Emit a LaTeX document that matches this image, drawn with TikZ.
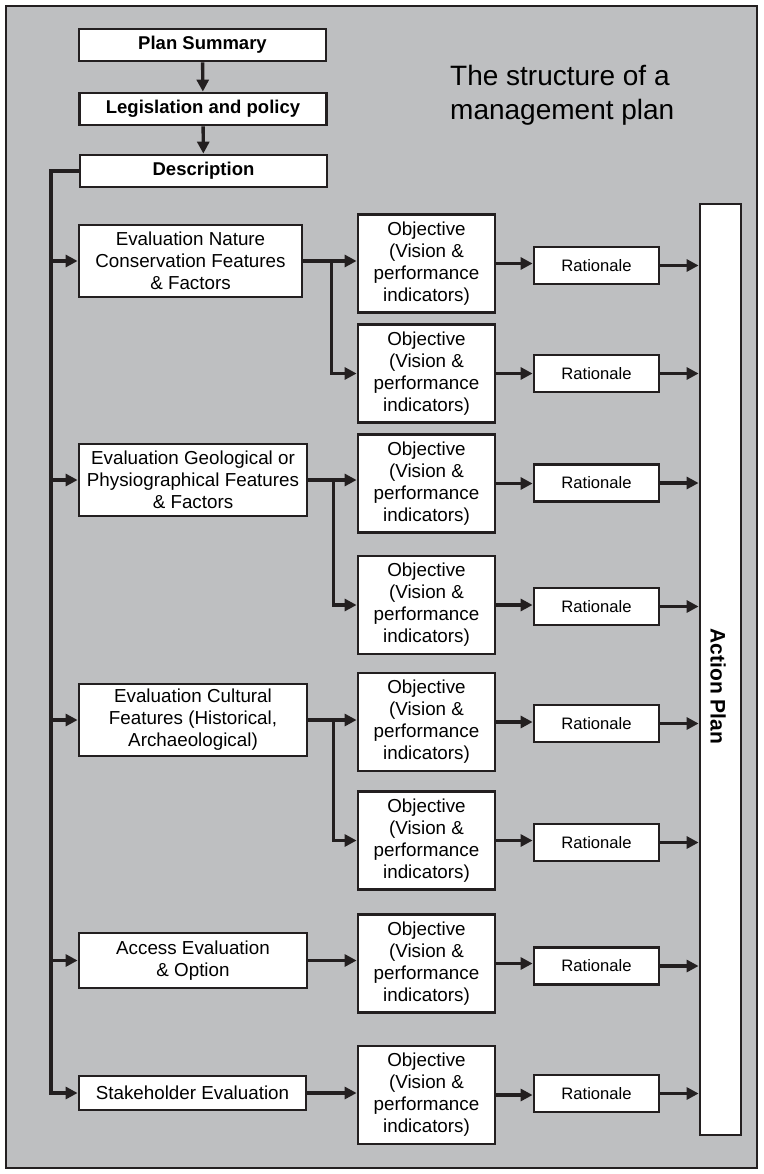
\documentclass[tikz,border=0pt]{standalone}
\usepackage{fontspec}
\setmainfont{Liberation Sans}
\usetikzlibrary{arrows.meta}
\definecolor{panelgray}{RGB}{190,191,193}
\definecolor{inkblack}{RGB}{35,31,32}
\tikzset{
    box/.style={draw=inkblack, line width=2.8pt, fill=white, inner sep=0pt, align=center,
        font=\fontsize{18.8}{22}\selectfont},
    headbox/.style={box, font=\fontsize{18.5}{22}\selectfont\bfseries, minimum width=247pt, minimum height=32pt},
    evalbox/.style={box, minimum height=72pt},
    objbox/.style={box, minimum width=137pt, minimum height=98pt},
    ratbox/.style={box, minimum width=125pt, minimum height=37pt, font=\fontsize{16.6}{20}\selectfont},
    link/.style={draw=inkblack, line width=3.4pt, -{Triangle[length=12pt,width=12pt]}},
}

\begin{document}
\begin{tikzpicture}[x=1pt, y=-1pt]
    % page and grey panel
    \useasboundingbox (0,0) rectangle (763,1174);
    \draw[inkblack, line width=2.8pt, fill=panelgray] (6,6) rectangle (757,1168);

    % header column
    \node[headbox] (summary) at (202.5,45) {Plan Summary};
    \node[headbox] (legis) at (203,109) {Legislation and policy};
    \node[headbox] (descr) at (203.5,171) {Description};

    \node[anchor=north west, inner sep=0pt, align=left, font=\fontsize{28}{34}\selectfont]
        (title) at (450,65) {The structure of a\\management plan};

    % evaluation column
    \node[evalbox, minimum width=223pt] (evalnat) at (190.5,261) {Evaluation Nature\\Conservation Features\\\& Factors};
    \node[evalbox, minimum width=228pt] (evalgeo) at (193,480) {Evaluation Geological or\\Physiographical Features\\\& Factors};
    \node[evalbox, minimum width=228pt] (evalcul) at (193,720) {Evaluation Cultural\\Features (Historical,\\Archaeological)};
    \node[box, minimum width=228pt, minimum height=55pt] (access) at (193,960.5) {Access Evaluation\\\& Option};
    \node[box, minimum width=227pt, minimum height=34pt] (stake) at (192.5,1093) {Stakeholder Evaluation};

    % objectives and rationales
    \foreach \i/\oy/\ry in {1/263.5/265.5, 2/373.5/373.5, 3/483.5/483, 4/605/606.5,
                            5/722/723.5, 6/840.5/842.5, 7/963.5/966, 8/1095/1093.5}
    {
        \node[objbox] (obj\i) at (426.5,\oy) {Objective\\(Vision \&\\performance\\indicators)};
        \node[ratbox] (rat\i) at (596.5,\ry) {Rationale};
    }

    % action plan
    \node[box, minimum width=41pt, minimum height=931pt] (action) at (720.5,669.5) {};
    \node[rotate=-90, inner sep=0pt, font=\fontsize{21}{24}\selectfont\bfseries] (actlbl) at (718,686.5) {Action Plan};

    % header arrows and spine
    \draw[link] (summary) -- (legis);
    \draw[link] (legis) -- (descr);
    \coordinate (spine) at (51,171);
    \draw[link] (descr.west) -- (spine) |- (stake.west);
    \foreach \e in {evalnat,evalgeo,evalcul,access}
    {
        \draw[link] (spine |- \e.west) -- (\e.west);
    }

    % evaluation to objectives
    \foreach \e/\a/\b/\off in {evalnat/1/2/28, evalgeo/3/4/25, evalcul/5/6/25}
    {
        \draw[link] (\e.east) -- (\e.east -| obj\a.west);
        \draw[link] (\e.east) -- ++(\off,0) |- (obj\b.west);
    }
    \draw[link] (access.east) -- (access.east -| obj7.west);
    \draw[link] (stake.east) -- (stake.east -| obj8.west);

    % objectives to rationales to action plan
    \foreach \i in {1,...,8}
    {
        \draw[link] (obj\i.east) -- (obj\i.east -| rat\i.west);
        \draw[link] (rat\i.east) -- (rat\i.east -| action.west);
    }
\end{tikzpicture}
\end{document}
